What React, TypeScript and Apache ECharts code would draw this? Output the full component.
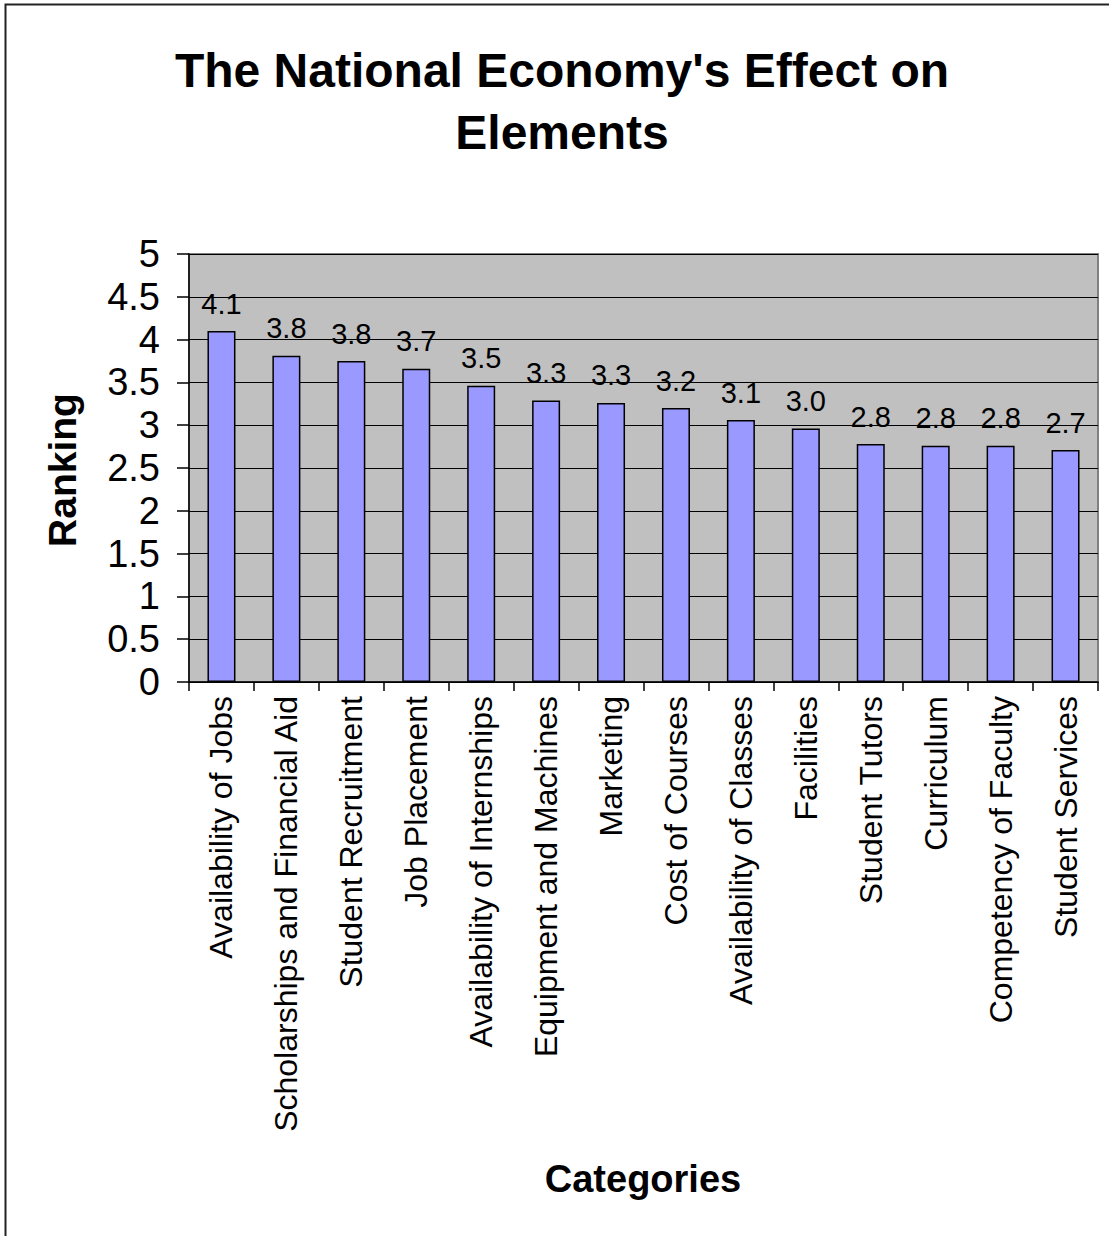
import React, { useEffect, useRef } from "react";
import * as echarts from "echarts";

// Categories in the order they are plotted
const categories = [
  "Availability of Jobs",
  "Scholarships and Financial Aid",
  "Student Recruitment",
  "Job Placement",
  "Availability of Internships",
  "Equipment and Machines",
  "Marketing",
  "Cost of Courses",
  "Availability of Classes",
  "Facilities",
  "Student Tutors",
  "Curriculum",
  "Competency of Faculty",
  "Student Services",
];

// Mean ranking per category
const rankings = [4.1, 3.81, 3.75, 3.66, 3.46, 3.29, 3.26, 3.2, 3.06, 2.96, 2.78, 2.76, 2.76, 2.71];

const titleLines = ["The National Economy's Effect on", "Elements"];
const yAxisTitle = "Ranking";
const xAxisTitle = "Categories";

const FONT = "Arial, 'Liberation Sans', Helvetica, sans-serif";

export default function App() {
  const ref = useRef<HTMLDivElement>(null);

  useEffect(() => {
    if (!ref.current) return;
    const chart = echarts.init(ref.current, undefined, { renderer: "svg" });
    chart.setOption({
      animation: false,
      backgroundColor: "#ffffff",
      title: {
        text: titleLines.join("\n"),
        left: 557,
        top: 34,
        textAlign: "center",
        textStyle: {
          fontFamily: FONT,
          fontSize: 48,
          fontWeight: "bold",
          color: "#000",
          lineHeight: 62,
        },
      },
      grid: {
        left: 189,
        top: 254,
        right: 11,
        bottom: 554,
        show: true,
        backgroundColor: "#C0C0C0",
        borderColor: "#808080",
        borderWidth: 2,
      },
      xAxis: {
        type: "category",
        data: categories,
        axisLine: { show: true, lineStyle: { color: "#000", width: 1.5 } },
        axisTick: {
          show: true,
          length: 9,
          alignWithLabel: false,
          interval: 0,
          lineStyle: { color: "#000", width: 1.5 },
        },
        axisLabel: {
          interval: 0,
          rotate: 90,
          margin: 14,
          fontFamily: FONT,
          fontSize: 32,
          color: "#000",
        },
        splitLine: { show: false },
      },
      yAxis: {
        type: "value",
        min: 0,
        max: 5,
        interval: 0.5,
        axisLine: { show: true, lineStyle: { color: "#000", width: 1.5 } },
        axisTick: { show: true, length: 12, lineStyle: { color: "#000", width: 1.5 } },
        axisLabel: {
          margin: 29,
          fontFamily: FONT,
          fontSize: 38,
          color: "#000",
        },
        splitLine: { show: true, lineStyle: { color: "#000", width: 1.2 } },
      },
      series: [
        {
          type: "bar",
          data: rankings,
          barWidth: 28,
          itemStyle: { color: "#9999FF", borderColor: "#000", borderWidth: 1.5 },
          label: {
            show: true,
            position: "top",
            distance: 13,
            fontFamily: FONT,
            fontSize: 29,
            color: "#000",
            formatter: (p: any) => (Math.round(p.value * 10) / 10).toFixed(1),
          },
        },
      ],
      graphic: [
        {
          type: "rect",
          shape: { x: 5.5, y: 4.5, width: 1120, height: 1260 },
          style: { fill: "none", stroke: "#222", lineWidth: 2 },
          silent: true,
        },
        {
          type: "text",
          x: 62,
          y: 470,
          rotation: Math.PI / 2,
          style: {
            text: yAxisTitle,
            align: "center",
            verticalAlign: "middle",
            font: `bold 39px ${FONT}`,
            fill: "#000",
          },
        },
        {
          type: "text",
          x: 643,
          y: 1179,
          style: {
            text: xAxisTitle,
            align: "center",
            verticalAlign: "middle",
            font: `bold 38px ${FONT}`,
            fill: "#000",
          },
        },
      ],
    });
    return () => chart.dispose();
  }, []);

  return (
    <div
      ref={ref}
      style={{ position: "absolute", left: 0, top: 0, width: 1109, height: 1236 }}
    />
  );
}
